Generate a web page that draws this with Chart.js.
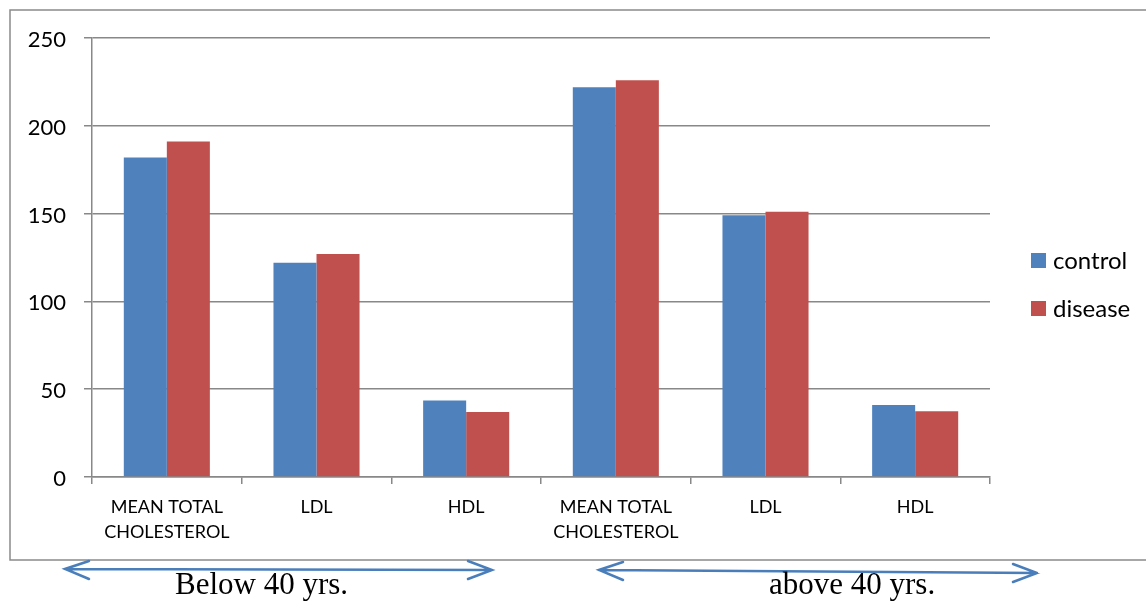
<!DOCTYPE html>
<html>
<head>
<meta charset="utf-8">
<script src="https://cdn.jsdelivr.net/npm/chart.js@4/dist/chart.umd.min.js"></script>
<style>
  html, body { margin: 0; padding: 0; background: #fff; }
  #wrap { width: 1146px; height: 601px; position: relative; }
</style>
</head>
<body>
<div id="wrap"><canvas id="c"></canvas></div>
<script>
// Lipid profile by age group (mg/dL)
const categories = [
  ['MEAN TOTAL', 'CHOLESTEROL'], 'LDL', 'HDL',
  ['MEAN TOTAL', 'CHOLESTEROL'], 'LDL', 'HDL'
];
const controlValues = [182, 122, 43.5, 222, 149, 41];
const diseaseValues = [191, 127, 37, 226, 151, 37.5];
const seriesNames = ['control', 'disease'];
const yTicks = [0, 50, 100, 150, 200, 250];
const groupLabels = ['Below 40 yrs.', 'above 40 yrs.'];

const BLUE = '#4F81BD';
const RED = '#C0504D';
const GRID = '#888888';

// Frame, legend, and age-group arrows drawn around the plot
const decorations = {
  id: 'decorations',
  afterDraw(chart) {
    const ctx = chart.ctx;
    ctx.save();

    // outer frame
    ctx.strokeStyle = '#8a8a8a';
    ctx.lineWidth = 1.5;
    ctx.strokeRect(10, 10, 1150, 550);

    // legend
    ctx.font = '24px Lato';
    ctx.textBaseline = 'middle';
    ctx.textAlign = 'left';
    chart.data.datasets.forEach((ds, i) => {
      const y = 253 + i * 48;
      ctx.fillStyle = ds.backgroundColor;
      ctx.fillRect(1031, y, 15, 15);
      ctx.fillStyle = '#000';
      ctx.fillText(ds.label, 1053, y + 8);
    });

    // double-headed arrows under each age group
    const arrow = (x1, y1, x2, y2) => {
      ctx.strokeStyle = '#4A7EBB';
      ctx.lineWidth = 2.5;
      ctx.lineCap = 'round';
      ctx.beginPath();
      ctx.moveTo(x1, y1); ctx.lineTo(x2, y2);
      ctx.moveTo(x1 + 24, y1 - 8); ctx.lineTo(x1, y1); ctx.lineTo(x1 + 24, y1 + 10);
      ctx.moveTo(x2 - 24, y2 - 9); ctx.lineTo(x2, y2); ctx.lineTo(x2 - 24, y2 + 9);
      ctx.stroke();
    };
    arrow(65, 569, 492, 570);
    arrow(599, 570, 1037, 573);

    ctx.fillStyle = '#000';
    ctx.font = '31px "Liberation Serif"';
    ctx.textBaseline = 'alphabetic';
    ctx.textAlign = 'left';
    ctx.fillText(groupLabels[0], 175, 594);
    ctx.fillText(groupLabels[1], 769, 594);

    ctx.restore();
  }
};

new Chart(document.getElementById('c'), {
  type: 'bar',
  data: {
    labels: categories,
    datasets: [
      { label: seriesNames[0], data: controlValues, backgroundColor: BLUE },
      { label: seriesNames[1], data: diseaseValues, backgroundColor: RED }
    ]
  },
  options: {
    responsive: true,
    maintainAspectRatio: false,
    animation: false,
    devicePixelRatio: 1,
    layout: { padding: { left: 0, top: 38, right: 156, bottom: 0 } },
    datasets: { bar: { categoryPercentage: 0.575, barPercentage: 1.0 } },
    plugins: { legend: { display: false }, tooltip: { enabled: false } },
    scales: {
      x: {
        offset: true,
        grid: {
          offset: true,
          drawOnChartArea: false,
          drawTicks: true,
          tickLength: 7,
          color: GRID,
          lineWidth: 1.5
        },
        border: { display: true, color: GRID, width: 1.5 },
        ticks: {
          color: '#000',
          font: { family: 'Lato', size: 18, lineHeight: 1.39 },
          padding: 11,
          maxRotation: 0,
          autoSkip: false
        },
        afterFit(scale) { scale.height = 124; }
      },
      y: {
        min: 0,
        max: 250,
        afterBuildTicks(scale) { scale.ticks = yTicks.map(v => ({ value: v })); },
        grid: { color: GRID, lineWidth: 1.5, tickLength: 8, drawTicks: true },
        border: { display: true, color: GRID, width: 1.5 },
        ticks: {
          color: '#000',
          font: { family: 'Lato', size: 22 },
          padding: 18,
          labelOffset: 2
        },
        afterFit(scale) { scale.width = 92; }
      }
    }
  },
  plugins: [decorations]
});
</script>
</body>
</html>
